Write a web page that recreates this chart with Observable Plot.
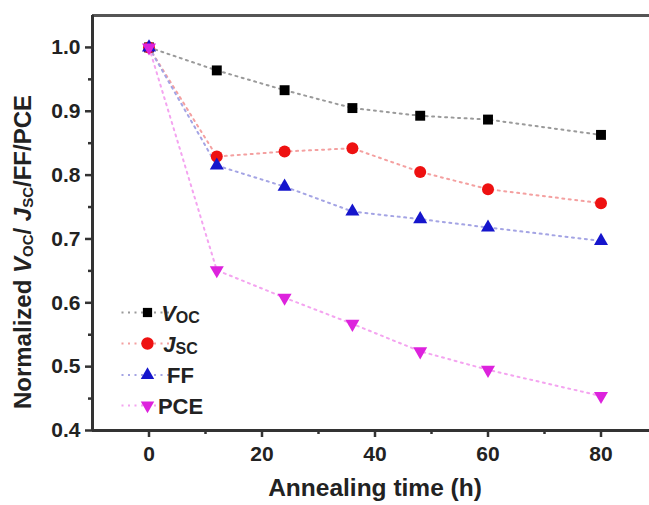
<!DOCTYPE html>
<html><head><meta charset="utf-8">
<script src="https://cdn.jsdelivr.net/npm/d3@7"></script>
<script src="https://cdn.jsdelivr.net/npm/@observablehq/plot@0.6"></script>
<style>
html,body{margin:0;padding:0;background:#fff;overflow:hidden}
#chart{position:relative;width:649px;height:505px}
</style></head><body><div id="chart"></div>
<script>
// ---- data ----
const times = [0, 12, 24, 36, 48, 60, 80];
const vocValues = [1.0, 0.964, 0.933, 0.905, 0.893, 0.887, 0.863];
const jscValues = [1.0, 0.829, 0.837, 0.842, 0.805, 0.778, 0.756];
const ffValues  = [1.0, 0.815, 0.782, 0.743, 0.731, 0.718, 0.697];
const pceValues = [1.0, 0.651, 0.608, 0.567, 0.524, 0.495, 0.454];
const seriesNames = ["Voc", "Jsc", "FF", "PCE"];
const xTicks = [0, 20, 40, 60, 80];
const xMinorTicks = [10, 30, 50, 70];
const yTicks = [0.4, 0.5, 0.6, 0.7, 0.8, 0.9, 1.0];
const yMinorTicks = [0.45, 0.55, 0.65, 0.75, 0.85, 0.95];
const xLabel = "Annealing time (h)";

// ---- styles ----
const invTriangle = {
  draw(ctx, size) {
    const s3 = Math.sqrt(3);
    const y = -Math.sqrt(size / (s3 * 3));
    ctx.moveTo(0, -y * 2);
    ctx.lineTo(-s3 * y, y);
    ctx.lineTo(s3 * y, y);
    ctx.closePath();
  }
};
const seriesStyle = {
  Voc: {fill: "#000000", line: "#9a9a9a", symbol: d3.symbolSquare, r: 5.6, lr: 5.2},
  Jsc: {fill: "#ee1111", line: "#f4a0a0", symbol: d3.symbolCircle, r: 6.0, lr: 6.2},
  FF:  {fill: "#1515cc", line: "#a4a4e4", symbol: d3.symbolTriangle, r: 5.2, lr: 5.0},
  PCE: {fill: "#dd22dd", line: "#f4a4f0", symbol: invTriangle, r: 5.2, lr: 5.0}
};
const valuesBySeries = {Voc: vocValues, Jsc: jscValues, FF: ffValues, PCE: pceValues};
const rows = seriesNames.flatMap(s => times.map((t, i) => ({series: s, t, v: valuesBySeries[s][i]})));

const axisColor = "#333";
const font = "'Liberation Sans', Arial, Helvetica, sans-serif";
const dash = "2,4.5";

const marks = [
  Plot.ruleY([1.05], {stroke: "#555", strokeWidth: 3}),
  Plot.axisX(xMinorTicks, {tickSize: 4, strokeWidth: 2.5, stroke: axisColor, tickFormat: () => "", label: null}),
  Plot.axisX(xTicks, {tickSize: 7, tickPadding: 9, strokeWidth: 2.5, stroke: axisColor, fill: "#222", label: null, fontSize: 21}),
  Plot.axisY(yMinorTicks, {tickSize: 4, strokeWidth: 2.5, stroke: axisColor, tickFormat: () => "", label: null}),
  Plot.axisY(yTicks, {tickSize: 7, tickPadding: 5, strokeWidth: 2.5, stroke: axisColor, fill: "#222", tickFormat: d3.format(".1f"), label: null, fontSize: 21}),
  Plot.ruleY([0.4], {stroke: axisColor, strokeWidth: 3}),
  Plot.ruleX([-10], {stroke: axisColor, strokeWidth: 3}),
  Plot.text([xLabel], {frameAnchor: "bottom", dy: 58, fontSize: 24.5, fill: "#222", lineAnchor: "middle"})
];
for (const s of seriesNames) {
  marks.push(Plot.line(rows.filter(d => d.series === s), {
    x: "t", y: "v", stroke: seriesStyle[s].line, strokeWidth: 2, strokeDasharray: dash
  }));
}
for (const s of seriesNames) {
  marks.push(Plot.dot(rows.filter(d => d.series === s), {
    x: "t", y: "v", fill: seriesStyle[s].fill, symbol: () => seriesStyle[s].symbol, r: seriesStyle[s].r, stroke: "none"
  }));
}

const plot = Plot.plot({
  width: 649, height: 505,
  marginLeft: 92, marginRight: -8, marginTop: 15, marginBottom: 75,
  x: {domain: [-10, 90]},
  y: {domain: [0.4, 1.05]},
  symbol: {type: "identity"},
  style: {fontFamily: font, fontWeight: "bold", fontSize: "21px", color: "#222", background: "white", overflow: "hidden"},
  marks
});
document.getElementById("chart").appendChild(plot);

// ---- y-axis label with subscripts ----
const svg = d3.select(plot.tagName.toLowerCase() === "svg" ? plot : plot.querySelector("svg"));
const yl = svg.append("text")
  .attr("transform", "translate(31,252) rotate(-90)")
  .attr("text-anchor", "middle")
  .attr("font-family", font).attr("font-weight", "bold").attr("font-size", 24).attr("fill", "#222");
yl.append("tspan").text("Normalized ");
yl.append("tspan").attr("font-style", "italic").text("V");
yl.append("tspan").attr("font-size", 15).attr("dy", 2).text("OC");
yl.append("tspan").attr("dy", -2).text("/ ");
yl.append("tspan").attr("font-style", "italic").text("J");
yl.append("tspan").attr("font-size", 15).attr("dy", 2).text("SC");
yl.append("tspan").attr("dy", -2).text("/FF/PCE");

// ---- legend ----
const sx = plot.scale("x");
const legendX = sx.apply(0) - 1;
const legendRowsY = [312.5, 343.5, 375, 405.5];
const legendLabels = {
  Voc: [["V", true, 22, 0], ["OC", false, 16, 2]],
  Jsc: [["J", true, 22, 0], ["SC", false, 16, 2]],
  FF: [["FF", false, 22, 0]],
  PCE: [["PCE", false, 22, 0]]
};
const lg = svg.append("g");
seriesNames.forEach((s, i) => {
  const y = legendRowsY[i];
  lg.append("line").attr("x1", legendX - 26).attr("x2", legendX + 26).attr("y1", y).attr("y2", y)
    .attr("stroke", seriesStyle[s].line).attr("stroke-width", 2).attr("stroke-dasharray", dash);
  lg.append("path").attr("transform", `translate(${legendX},${y})`)
    .attr("d", d3.symbol(seriesStyle[s].symbol, seriesStyle[s].lr * seriesStyle[s].lr * Math.PI)())
    .attr("fill", seriesStyle[s].fill);
  const t = lg.append("text").attr("x", legendX + 33).attr("y", y + 8)
    .attr("font-family", font).attr("font-weight", "bold").attr("font-size", 22).attr("fill", "#222");
  let prevDy = 0;
  for (const [txt, it, fs, dy] of legendLabels[s]) {
    t.append("tspan").attr("font-style", it ? "italic" : "normal").attr("font-size", fs).attr("dy", dy - prevDy).text(txt);
    prevDy = dy;
  }
});
</script></body></html>
